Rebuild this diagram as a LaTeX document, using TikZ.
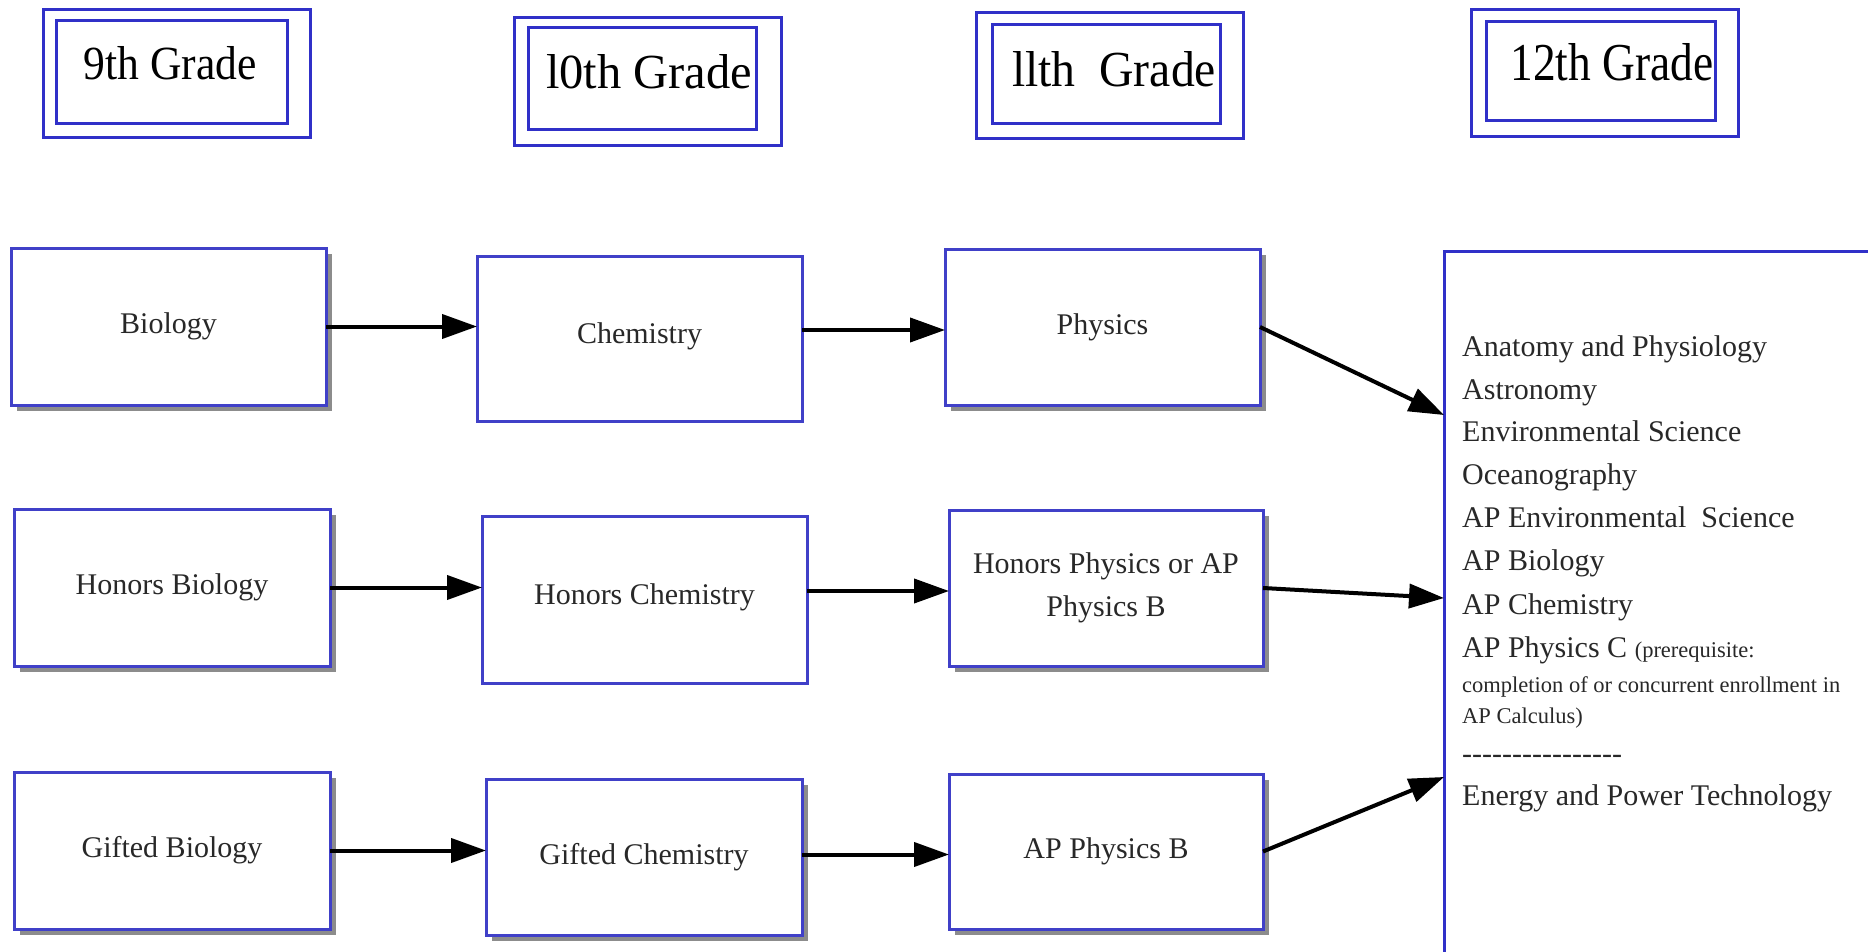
\documentclass[tikz,border=0pt]{standalone}
\usepackage{graphicx}
\usepackage{fontspec}
\setmainfont{Liberation Serif}
\usetikzlibrary{arrows.meta,shadows,calc}
\definecolor{boxblue}{RGB}{64,64,200}
\definecolor{hdrblue}{RGB}{48,48,200}
\definecolor{txt}{RGB}{40,40,40}
\definecolor{shadowgray}{RGB}{140,140,140}
\newcommand{\hy}{\hbox{-}}
\begin{document}
\begin{tikzpicture}[x=1pt,y=-1pt,
  course/.style={draw=boxblue, line width=3pt, fill=white, inner sep=0pt, outer sep=0pt,
    align=center, text=txt, font=\fontsize{30}{43}\selectfont},
  shadowed/.style={drop shadow={shadow xshift=6pt, shadow yshift=-6pt, fill=shadowgray, opacity=1}},
  hdr/.style={draw=hdrblue, line width=3pt},
  gradelabel/.style={anchor=base, inner sep=0pt, text=black, font=\fontsize{46}{50}\selectfont},
  flow/.style={-{Triangle[length=35pt,width=24pt]}, line width=4pt, black},
  listitem/.style={anchor=base west, inner sep=0pt, text=txt, font=\fontsize{30}{43}\selectfont},
  smallitem/.style={anchor=base west, inner sep=0pt, text=txt, font=\fontsize{22.5}{31}\selectfont},
  bigbox/.style={draw=hdrblue, line width=3pt, inner sep=0pt, outer sep=0pt},
]
\useasboundingbox[fill=white] (0,0) rectangle (1868,952);

% grade headers
\draw[hdr] (43,10) rectangle (310,138);
\draw[hdr] (56,21) rectangle (287,124);
\node[gradelabel] (g9) at (170,80) {\resizebox{173pt}{33pt}{9th Grade}};

\draw[hdr] (514,18) rectangle (781,146);
\draw[hdr] (528,28) rectangle (756,130);
\node[gradelabel] (g10) at (649,89) {\resizebox{206pt}{34pt}{l0th Grade}};

\draw[hdr] (976,13) rectangle (1243,139);
\draw[hdr] (992,25) rectangle (1220,124);
\node[gradelabel] (g11) at (1114,87) {\resizebox{204pt}{35pt}{llth~ Grade}};

\draw[hdr] (1471,10) rectangle (1738,137);
\draw[hdr] (1486,22) rectangle (1715,121);
\node[gradelabel] (g12) at (1612,81) {\resizebox{203pt}{37pt}{12th Grade}};

% course boxes
\node[course, shadowed, minimum width=315, minimum height=157] (bio) at (168.5,326.5) {Biology};
\node[course, minimum width=325, minimum height=165] (chem) at (639.5,338.5) {\raisebox{10pt}{Chemistry}};
\node[course, shadowed, minimum width=315, minimum height=156] (phys) at (1102.5,327) {Physics};

\node[course, shadowed, minimum width=316, minimum height=157] (hbio) at (172,587.5) {Honors Biology};
\node[course, minimum width=325, minimum height=167] (hchem) at (644.5,599.5) {\raisebox{10pt}{Honors Chemistry}};
\node[course, shadowed, minimum width=314, minimum height=156] (hphys) at (1106,588) {Honors Physics or AP\\Physics B};

\node[course, shadowed, minimum width=316, minimum height=157] (gbio) at (172,850.5) {Gifted Biology};
\node[course, shadowed, minimum width=316, minimum height=156] (gchem) at (644,857) {\raisebox{5pt}{Gifted Chemistry}};
\node[course, shadowed, minimum width=314, minimum height=155] (apb) at (1106,851.5) {AP Physics B};

% 12th grade box (extends past the page edges)
\node[bigbox, minimum width=520, minimum height=780] (big) at (1704,641) {};
\coordinate (t1) at ($(big.north west)+(0,164)$);
\coordinate (t2) at ($(big.north west)+(0,347)$);
\coordinate (t3) at ($(big.north west)+(0,526)$);

% arrows
\draw[flow] (bio.east) -- (bio.east -| chem.west);
\draw[flow] ([yshift=-3pt]phys.west -| chem.east) -- ([yshift=-3pt]phys.west);
\draw[flow] (phys.east) -- (t1);

\draw[flow] (hbio.east) -- (hbio.east -| hchem.west);
\draw[flow] ([yshift=-3pt]hphys.west -| hchem.east) -- ([yshift=-3pt]hphys.west);
\draw[flow] (hphys.east) -- (t2);

\draw[flow] (gbio.east) -- (gbio.east -| gchem.west);
\draw[flow] ([yshift=-3pt]apb.west -| gchem.east) -- ([yshift=-3pt]apb.west);
\draw[flow] (apb.east) -- (t3);

% 12th grade list
\node[listitem] (l1) at (1462,356) {Anatomy and Physiology};
\node[listitem] (l2) at (1462,399) {Astronomy};
\node[listitem] (l3) at (1462,441) {Environmental Science};
\node[listitem] (l4) at (1462,484) {Oceanography};
\node[listitem] (l5) at (1462,527) {AP Environmental\ \ Science};
\node[listitem] (l6) at (1462,570) {AP Biology};
\node[listitem] (l7) at (1462,614) {AP Chemistry};
\node[listitem] (l8) at (1462,657) {AP Physics C {\fontsize{22.5}{31}\selectfont(prerequisite:}};
\node[smallitem] (l9) at (1462,692) {completion of or concurrent enrollment in};
\node[smallitem] (l10) at (1462,723) {AP Calculus)};
\node[listitem] (l11) at (1462,763) {\hy\hy\hy\hy\hy\hy\hy\hy\hy\hy\hy\hy\hy\hy\hy\hy};
\node[listitem] (l12) at (1462,805) {Energy and Power Technology};
\end{tikzpicture}
\end{document}
